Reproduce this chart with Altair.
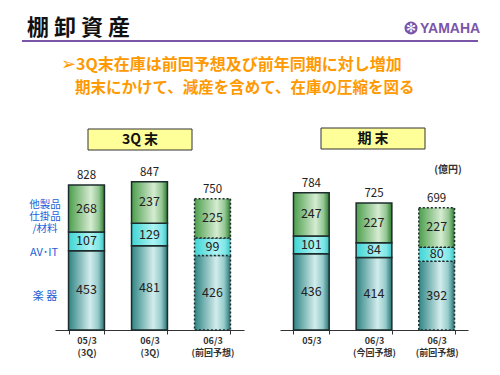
import altair as alt
import pandas as pd

# ---- data ----
cats_3q = ["05/3|(3Q)", "06/3|(3Q)", "06/3|(前回予想)"]
gakki_3q = [453, 481, 426]
avit_3q = [107, 129, 99]
other_3q = [268, 237, 225]
total_3q = [828, 847, 750]
forecast_3q = [False, False, True]

cats_fy = ["05/3", "06/3|(今回予想)", "06/3|(前回予想)"]
gakki_fy = [436, 414, 392]
avit_fy = [101, 84, 80]
other_fy = [247, 227, 227]
total_fy = [784, 725, 699]
forecast_fy = [False, False, True]

segments = ["gakki", "avit", "other"]


def build(panel, cats, g, a, o, t, fc):
    rows = []
    for i, c in enumerate(cats):
        for k, (s, v) in enumerate(zip(segments, [g[i], a[i], o[i]])):
            rows.append({"panel": panel, "cat": c, "seg": s, "order": k,
                         "value": v, "total": t[i], "fc": fc[i]})
    return pd.DataFrame(rows)


df_3q = build("3q", cats_3q, gakki_3q, avit_3q, other_3q, total_3q, forecast_3q)
df_fy = build("fy", cats_fy, gakki_fy, avit_fy, other_fy, total_fy, forecast_fy)

JP = "Noto Sans CJK JP"
PURPLE = "#7b55a8"


def grad(stops):
    return alt.Gradient(
        gradient="linear", x1=0, x2=1, y1=0, y2=0,
        stops=[alt.GradientStop(offset=o, color=c) for o, c in stops],
    )


fills = {
    "gakki": grad([(0, "#2f8484"), (0.6, "#d2ecec"), (0.82, "#96cccc"), (1, "#2a7272")]),
    "avit": grad([(0, "#3ed4d4"), (0.6, "#aef3f3"), (0.85, "#7ee6e6"), (1, "#38c4c4")]),
    "other": grad([(0, "#4c9e4c"), (0.62, "#d6ecd2"), (0.84, "#93c793"), (1, "#2e7a2e")]),
}

yscale = alt.Scale(domain=[0, 1885], nice=False, zero=True)


def panel(df, cats, rng):
    x = alt.X(
        "cat:N", sort=cats, title=None,
        scale=alt.Scale(range=rng, paddingInner=0.43, paddingOuter=0.215),
        axis=alt.Axis(orient="bottom", labelAngle=0, tickBand="extent",
                      labelExpr="split(datum.label, '|')",
                      labelFont=JP, labelFontSize=9, labelColor="#333",
                      labelFontWeight="bold",
                      labelPadding=2, labelLineHeight=12, tickSize=4,
                      tickColor="#333", domainColor="#333", domainWidth=1.2,
                      grid=False),
    )
    base = alt.Chart(df).transform_stack(
        stack="value", groupby=["cat"], as_=["y0", "y1"],
        sort=[alt.SortField("order", order="ascending")],
    ).transform_calculate(mid="(datum.y0 + datum.y1) / 2")
    dash = alt.condition("datum.fc", alt.value([2, 2]), alt.value([1, 0]))
    layers = []
    for s in segments:
        layers.append(
            base.transform_filter(alt.datum.seg == s)
            .mark_bar(fill=fills[s], stroke="#1c2b2b", strokeWidth=1.5)
            .encode(x=x, y=alt.Y("y0:Q", scale=yscale, axis=None), y2="y1:Q",
                    strokeDash=dash)
        )
    layers.append(
        base.mark_text(font=JP, fontSize=12.5, color="#222")
        .encode(x=x, y=alt.Y("mid:Q", scale=yscale, axis=None), text="value:Q")
    )
    layers.append(
        base.transform_filter(alt.datum.seg == "other")
        .mark_text(font=JP, fontSize=11.5, color="#222", dy=-9)
        .encode(x=x, y=alt.Y("y1:Q", scale=yscale, axis=None), text="total:Q")
    )
    return alt.layer(*layers)


left = panel(df_3q, cats_3q, [55, 244])
right = panel(df_fy, cats_fy, [280, 468])

one = pd.DataFrame({"k": [0]})


def txt(text, x, y, size, color="#222", weight="normal", align="center", font=JP,
        line_height=None):
    kw = {}
    if line_height is not None:
        kw["lineHeight"] = line_height
    return alt.Chart(one).mark_text(
        text=text, fontSize=size, color=color, fontWeight=weight,
        align=align, baseline="middle", font=font, **kw,
    ).encode(x=alt.value(x), y=alt.value(y))


BLUE = "#2160d8"
annotations = [
    txt("棚 卸 資 産", 27, 28, 22, "#111", "bold", "left"),
    alt.Chart(one).mark_rule(color=PURPLE, strokeWidth=2).encode(
        x=alt.value(22), x2=alt.value(478), y=alt.value(41)),
    alt.Chart(one).mark_point(filled=True, shape="circle", size=170,
                              color=PURPLE, opacity=1).encode(
        x=alt.value(411), y=alt.value(28)),
    txt("✻", 411, 28, 12, "white", "bold", "center", "DejaVu Sans"),
    txt("YAMAHA", 420, 28.5, 14, PURPLE, "bold", "left", "Liberation Sans"),
    txt("➢", 61, 65, 18, "#FF9900", "bold", "left", "DejaVu Sans"),
    txt("3Q末在庫は前回予想及び前年同期に対し増加", 76, 65, 16, "#FF9900", "bold", "left"),
    txt("期末にかけて、減産を含めて、在庫の圧縮を図る", 75, 88, 15.5, "#FF9900", "bold", "left"),
    alt.Chart(one).mark_rect(fill="#FFFF99", stroke="#333", strokeWidth=1).encode(
        x=alt.value(88), x2=alt.value(192), y=alt.value(129), y2=alt.value(150)),
    txt("3Q 末", 140, 139.5, 14, "#111", "bold"),
    alt.Chart(one).mark_rect(fill="#FFFF99", stroke="#333", strokeWidth=1).encode(
        x=alt.value(321), x2=alt.value(425), y=alt.value(128), y2=alt.value(149)),
    txt("期 末", 373, 138.5, 14, "#111", "bold"),
    txt("(億円)", 448, 170, 10, "#333", "bold"),
    txt(["他製品", "仕掛品", "/材料"], 45, 205, 10.5, BLUE, line_height=12),
    txt("AV･IT", 44, 253, 11, BLUE),
    txt("楽  器", 45, 297, 11, BLUE),
]

chart = alt.layer(*annotations, left, right).resolve_scale(
    x="independent"
).resolve_axis(x="independent").properties(
    width=500, height=330,
    autosize=alt.AutoSizeParams(type="none"),
    padding={"left": 0, "top": 0, "right": 0, "bottom": 45},
    background="white",
).configure_view(stroke=None)

chart.save("out.html", embed_options={"renderer": "svg", "actions": False})
